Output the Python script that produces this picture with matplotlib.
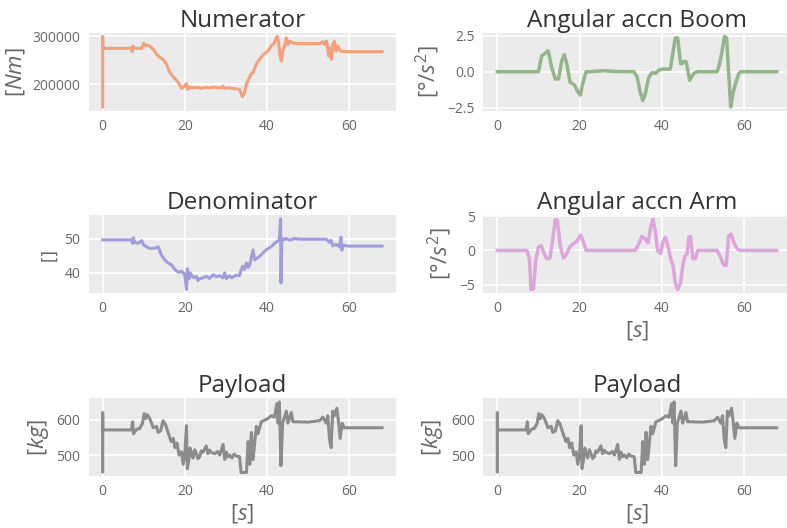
import matplotlib
matplotlib.use('Agg')
import matplotlib.pyplot as plt

# Numerator [Nm]
t_num = [0.0, 0.0, 0.05, 0.1, 7.0, 7.2, 7.4, 7.6, 9.5, 10.0, 10.4, 11.0, 11.6, 12.3, 13.1, 13.9,
         14.7, 15.5, 16.3, 17.2, 18.0, 18.8, 19.2, 19.8, 20.4, 20.7, 21.2, 22.0, 23.0, 24.0,
         25.0, 26.0, 27.0, 28.0, 29.0, 29.3, 29.6, 30.5, 31.5, 32.5, 33.3, 34.0, 34.5, 35.0,
         35.4, 36.2, 36.6, 37.4, 38.2, 39.0, 40.2, 41.0, 41.8, 42.2, 42.5, 42.8, 43.2, 43.5,
         43.9, 44.3, 44.7, 45.1, 45.5, 46.3, 48.0, 50.0, 52.8, 53.6, 54.0, 54.5, 55.0, 55.3,
         55.7, 56.0, 56.4, 56.8, 57.2, 57.6, 58.0, 60.0, 63.0, 66.0, 68.0]
v_num = [152000, 300000, 275000, 275000, 275000, 268000, 280000, 275000, 275000, 286000, 281000,
         282000, 279000, 273000, 263000, 256000, 252000, 242000, 225000, 215000, 208000, 198000,
         191000, 195000, 201000, 189000, 194000, 192000, 193000, 191000, 193000, 192000, 194000,
         192000, 193000, 196000, 191000, 192000, 191000, 190000, 189000, 174000, 181000, 201000,
         208000, 222000, 224000, 242000, 252000, 261000, 269000, 280000, 286000, 297000, 300000,
         288000, 259000, 249000, 273000, 280000, 297000, 283000, 290000, 286000, 285000, 285000,
         285000, 289000, 283000, 290000, 259000, 276000, 252000, 282000, 290000, 269000, 280000,
         273000, 269000, 268000, 268000, 268000, 268000]

# Denominator []
t_den = [0.0, 7.0, 7.3, 7.5, 7.8, 8.7, 9.5, 10.0, 10.7, 11.5, 12.7, 13.5, 14.3, 15.1, 15.9,
         16.7, 17.6, 18.4, 19.2, 20.0, 20.4, 20.6, 21.0, 21.3, 21.6, 22.2, 22.8, 23.2, 23.6,
         24.4, 25.2, 26.0, 26.9, 27.7, 28.5, 29.3, 29.7, 30.1, 30.9, 31.4, 32.0, 32.6, 33.3,
         33.7, 34.1, 34.5, 35.0, 35.4, 35.8, 36.6, 37.0, 38.2, 39.0, 39.8, 41.0, 42.2, 43.0,
         43.3, 43.4, 43.6, 44.0, 44.7, 45.5, 46.7, 48.0, 51.0, 54.4, 55.2, 55.6, 56.0, 56.8,
         57.6, 58.0, 58.2, 58.6, 59.6, 62.0, 65.0, 68.0]
v_den = [49.6, 49.6, 48.6, 50.2, 48.9, 48.6, 49.4, 48.1, 47.6, 47.1, 47.2, 47.6, 45.2, 43.8,
         42.9, 42.4, 41.0, 40.2, 40.5, 39.5, 35.2, 41.2, 38.3, 40.0, 39.4, 38.6, 39.0, 37.8,
         38.3, 38.6, 39.0, 38.4, 39.5, 38.9, 39.2, 38.6, 40.0, 38.4, 39.1, 38.6, 39.0, 39.4,
         39.2, 40.9, 41.9, 41.0, 42.9, 41.6, 42.4, 46.7, 43.8, 44.8, 45.8, 46.7, 47.6, 49.0,
         49.5, 55.7, 37.1, 50.2, 49.6, 50.0, 49.5, 50.0, 49.8, 49.8, 49.8, 48.9, 49.5, 47.9,
         48.3, 47.6, 50.4, 46.6, 48.1, 47.8, 47.8, 47.8, 47.8]

# Payload [kg]
t_pay = [0.0, 0.0, 0.05, 0.1, 7.0, 7.3, 7.5, 8.3, 9.0, 9.7, 10.1, 10.5, 10.8, 11.3, 11.9,
         12.3, 13.1, 13.5, 14.1, 14.7, 15.3, 15.9, 16.3, 16.7, 17.2, 17.6, 18.1, 18.6, 19.2,
         19.6, 20.0, 20.4, 20.6, 21.0, 21.3, 21.6, 22.0, 22.4, 22.8, 23.2, 23.6, 24.0, 24.4,
         25.2, 25.6, 26.0, 26.4, 27.3, 28.0, 28.5, 29.3, 29.7, 30.1, 30.5, 30.9, 31.5, 32.0,
         32.5, 33.3, 33.7, 35.0, 35.4, 35.8, 36.2, 36.6, 37.4, 37.8, 38.6, 39.4, 40.2, 41.0,
         41.8, 42.4, 42.7, 43.0, 43.4, 43.8, 44.7, 45.1, 45.9, 46.3, 47.1, 50.0, 52.8, 53.6,
         54.4, 54.8, 55.2, 55.6, 56.0, 56.4, 57.0, 57.4, 57.8, 58.3, 58.8, 62.0, 65.0, 68.0]
v_pay = [453, 620, 571, 571, 571, 594, 560, 573, 575, 590, 617, 603, 614, 607, 590, 577, 581,
         564, 568, 597, 586, 564, 551, 538, 547, 521, 534, 500, 509, 474, 504, 583, 462, 488,
         520, 505, 492, 515, 504, 490, 495, 512, 508, 526, 504, 514, 508, 504, 510, 500, 530,
         488, 508, 495, 500, 492, 503, 497, 496, 451, 451, 538, 474, 564, 487, 581, 560, 594,
         598, 603, 611, 607, 645, 590, 650, 470, 590, 624, 590, 620, 594, 594, 593, 597, 607,
         590, 611, 547, 521, 624, 611, 632, 594, 547, 590, 577, 577, 577, 577]

# Angular accn Boom [deg/s^2]
t_boom = [0.0, 10.0, 10.8, 11.6, 12.4, 13.2, 14.1, 14.9, 15.7, 16.3, 16.9, 17.7, 18.7, 19.5,
          20.2, 20.8, 21.6, 22.6, 25.9, 28.3, 33.2, 34.0, 34.8, 35.4, 36.0, 36.8, 37.6, 38.5,
          39.3, 40.1, 42.1, 42.8, 43.3, 43.9, 44.6, 45.0, 45.5, 46.0, 46.8, 47.8, 48.8, 53.5,
          54.1, 54.7, 55.3, 55.8, 56.3, 56.8, 57.4, 58.0, 58.8, 59.2, 68.0]
v_boom = [0.0, 0.0, 1.1, 1.27, 1.44, 0.33, -0.5, -0.5, 0.78, 1.18, 0.55, -0.73, -0.9, -1.33,
          -1.62, -0.78, 0.0, 0.0, 0.07, 0.02, 0.0, -0.33, -1.44, -2.0, -1.55, -0.44, -0.07,
          -0.11, 0.1, 0.18, 0.18, 1.44, 2.33, 2.33, 0.56, 0.56, 0.73, 0.67, -0.6, -0.11, 0.0,
          0.0, 0.55, 1.44, 2.44, 2.33, -0.11, -2.44, -1.44, -0.78, -0.11, 0.0, 0.0]

# Angular accn Arm [deg/s^2]
t_arm = [0.0, 7.2, 7.8, 8.2, 8.8, 9.3, 10.0, 10.7, 11.4, 12.0, 12.8, 13.5, 14.1, 14.6, 15.3,
         16.1, 16.7, 17.6, 18.4, 19.3, 20.3, 21.0, 21.6, 33.6, 34.4, 35.2, 36.0, 36.7, 37.4,
         37.9, 38.5, 39.0, 39.7, 40.3, 40.9, 41.5, 42.1, 42.8, 43.3, 43.9, 44.6, 45.1, 45.6,
         46.2, 46.6, 47.0, 47.6, 48.2, 48.8, 53.5, 54.3, 55.1, 55.7, 56.3, 56.9, 57.7, 58.5,
         59.2, 68.0]
v_arm = [0.0, 0.0, -1.2, -5.7, -5.6, -1.67, 0.48, 0.71, -0.48, -1.2, -1.1, 1.67, 4.5, 4.4,
         0.7, -1.1, -0.7, 0.48, 0.95, 1.29, 2.24, 1.2, 0.0, 0.0, 0.95, 2.05, 1.67, 1.1, 3.57,
         4.6, 2.6, 0.0, -0.48, 1.2, 1.9, 0.7, -0.95, -2.38, -4.76, -5.7, -4.76, -2.4, -0.95,
         -0.48, 1.9, 2.05, -1.2, -1.2, 0.0, 0.0, -0.95, -2.14, -2.2, 2.14, 2.4, 0.95, 0.14,
         0.0, 0.0]

plt.rcParams['font.family'] = ['Open Sans', 'DejaVu Sans']
plt.rcParams['mathtext.fontset'] = 'custom'
plt.rcParams['mathtext.rm'] = 'Open Sans'
plt.rcParams['mathtext.it'] = 'Open Sans:italic'

fig = plt.figure(figsize=(7.87, 5.28), dpi=100)

# axes boxes in figure fractions: [left, bottom, width, height]
col_x = [0.1127, 0.6142]
row_y = [0.7907, 0.4451, 0.0985]
w, h = 0.3905, 0.147

panels = [
    (0, 0, t_num, v_num, '#F4A07C', 'Numerator', '$[Nm]$', 16, None),
    (0, 1, t_boom, v_boom, '#93B58A', 'Angular accn Boom', r'$[°/s^2]$', 16, None),
    (1, 0, t_den, v_den, '#A19DDA', 'Denominator', '[]', 12, None),
    (1, 1, t_arm, v_arm, '#DEA4DE', 'Angular accn Arm', r'$[°/s^2]$', 16, '$[s]$'),
    (2, 0, t_pay, v_pay, '#8C8C8C', 'Payload', '$[kg]$', 16, '$[s]$'),
    (2, 1, t_pay, v_pay, '#8C8C8C', 'Payload', '$[kg]$', 16, '$[s]$'),
]

for row, col, tt, vv, color, title, ylab, ylab_size, xlab in panels:
    ax = fig.add_axes([col_x[col], row_y[row], w, h])
    ax.set_facecolor('#EBEBEB')
    ax.plot(tt, vv, color=color, lw=2.5 if col == 1 and row < 2 else 2.2,
            solid_joinstyle='round')
    ax.grid(True, color='white', lw=1.2)
    ax.set_axisbelow(True)
    for s in ax.spines.values():
        s.set_visible(False)
    ax.tick_params(length=0, labelsize=10, labelcolor='#666666', pad=6)
    ax.set_title(title, fontsize=17.5, color='#333333', pad=4)
    if ylab == '[]':
        # plain brackets, no units
        ax.set_ylabel(ylab, fontsize=ylab_size, color='#666666', family='DejaVu Sans')
    else:
        ax.set_ylabel(ylab, fontsize=ylab_size, color='#666666')
    if xlab:
        ax.set_xlabel(xlab, fontsize=16, color='#666666', labelpad=2)
    ax.set_xticks([0, 20, 40, 60])
    if row == 0 and col == 0:
        ax.set_yticks([200000, 300000])
    elif row == 0:
        ax.set_yticks([-2.5, 0.0, 2.5])
    elif row == 1 and col == 0:
        ax.set_yticks([40, 50])
    elif row == 1:
        ax.set_yticks([-5, 0, 5])
    else:
        ax.set_yticks([500, 600])

fig.savefig('out.png', dpi=100)
